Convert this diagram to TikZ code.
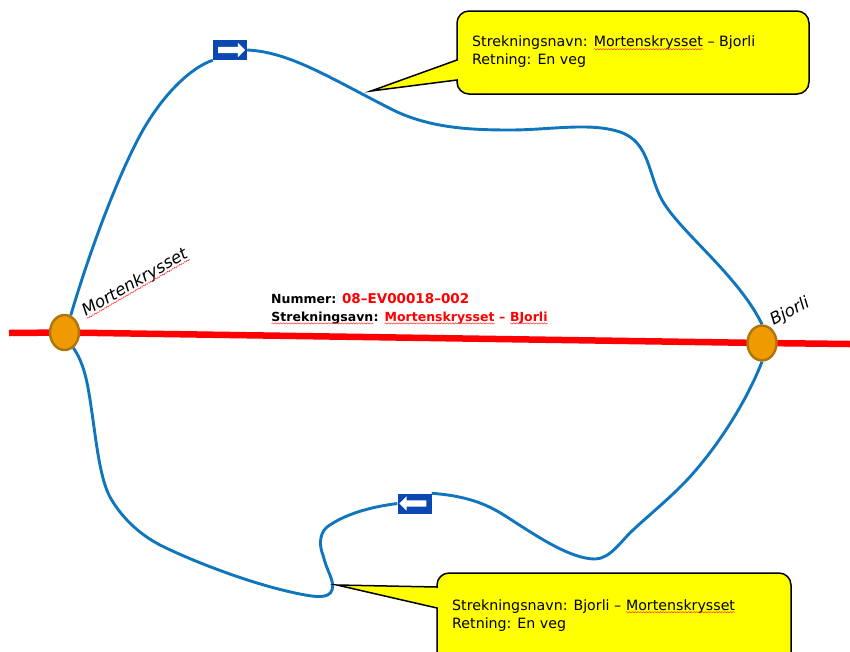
\documentclass[tikz,border=0pt]{standalone}
\usepackage{fontspec}
\setmainfont{DejaVu Sans}
\usepackage{tikz}
\usetikzlibrary{shapes.geometric,shapes.arrows,decorations.pathmorphing}

\definecolor{roadblue}{HTML}{0F75BD}
\definecolor{signblue}{HTML}{0A47B0}
\definecolor{nodefill}{HTML}{EE9A00}
\definecolor{nodeline}{HTML}{B0740F}
\definecolor{bubblefill}{RGB}{255,255,0}
\definecolor{roadred}{RGB}{255,0,0}

\newcommand{\squig}[1]{\tikz[baseline=(w.base)]{\node[inner sep=0pt,outer sep=0pt] (w) {#1};
    \draw[roadred!80,line width=.5pt,decorate,decoration={snake,amplitude=.6pt,segment length=2.8pt}] ([yshift=-2.2pt]w.base west) -- ([yshift=-2.2pt]w.base east);}}

\tikzset{
    junction/.style={ellipse,draw=nodeline,fill=nodefill,line width=2.4pt,inner sep=0pt,minimum width=29pt,minimum height=35pt},
    roadsign/.style={rectangle,fill=signblue,inner sep=0pt,minimum width=34pt,minimum height=20pt},
    signarrow/.style={single arrow,fill=white,inner sep=0pt,text height=6pt,text depth=0pt,minimum height=27pt,single arrow head extend=4pt,single arrow tip angle=90},
    bubble/.style={draw=black,line width=1.5pt,fill=bubblefill,line join=miter},
    bubbletext/.style={anchor=north west,inner sep=0pt,align=left,font=\fontsize{14.2}{18}\selectfont},
    placename/.style={font=\fontsize{16.6}{19}\selectfont\itshape},
    blueroad/.style={draw=roadblue,line width=2.9pt},
    redroad/.style={draw=roadred,line width=6.5pt}
}

\begin{document}
\begin{tikzpicture}[x=1pt,y=-1pt]
            \useasboundingbox (0,0) rectangle (850,651);

            \node[junction,draw=none,fill=none] (M) at (64.5,332.5) {};
            \node[junction,draw=none,fill=none] (B) at (762,343) {};
            \node[roadsign] (signN) at (230,50) {};
            \node[roadsign] (signS) at (414.5,503.5) {};
            \coordinate (west) at (9,333);
            \coordinate (east) at (850,344);
            \coordinate (tipN) at (371,91);
            \coordinate (tipS) at (337,585);

            % roads
            \draw[redroad] (west) -- (M.center) -- (B.center) -- (east);
            \draw[blueroad] (M.70) .. controls (93,240) and (122,167) .. (143,130)
                .. controls (163,95) and (190,68) .. (signN.south west);
            \draw[blueroad] (signN.east) .. controls (290,52) and (330,78) .. (393,110)
                .. controls (430,128) and (470,130) .. (510,130)
                .. controls (550,130) and (590,122) .. (620,132)
                .. controls (650,142) and (648,175) .. (662,200)
                .. controls (680,232) and (738,275) .. (B.north);
            \draw[blueroad] (B.south) .. controls (745,405) and (715,450) .. (687,480)
                .. controls (670,498) and (648,516) .. (633,530)
                .. controls (621,541) and (610,559) .. (595,559)
                .. controls (570,559) and (535,535) .. (507,517)
                .. controls (490,506) and (470,496) .. (signS.north east);
            \draw[blueroad] (signS.west) .. controls (370,507) and (345,514) .. (327,527)
                .. controls (318,535) and (320,548) .. (323,555)
                .. controls (327,572) and (335,581) .. (332,590)
                .. controls (329,599) and (315,597) .. (300,594)
                .. controls (250,584) and (190,560) .. (160,545)
                .. controls (137,533) and (120,515) .. (110,497)
                .. controls (100,479) and (96,440) .. (92,413)
                .. controls (88,385) and (85,365) .. (M.300);

            \node[junction] (Mdot) at (M.center) {};
            \node[junction] (Bdot) at (B.center) {};
            \node[signarrow] (arrowN) at (signN) {};
            \node[signarrow,shape border rotate=180] (arrowS) at (signS) {};

            \node[placename,rotate=30] (nameM) at (135,283) {\squig{Mortenkrysset}};
            \node[placename,rotate=28] (nameB) at (790,312) {Bjorli};

            \node[anchor=north west,inner sep=0pt,align=left,font=\fontsize{12.5}{18}\selectfont\bfseries] (midtext) at (271,293)
                {Nummer: \textcolor{roadred}{\fontsize{13.5}{18}\selectfont 08--EV00018--002}\\
                 \squig{Strekningsavn}: \textcolor{roadred}{\squig{Mortenskrysset} -- \squig{BJorli}}};

            % callouts
            \draw[bubble] (457,60) -- (tipN) -- (457,80) [rounded corners=12pt] |- (809,94) |- (457,11) [sharp corners] -- cycle;
            \node[bubbletext] (textN) at (472,36) {Strekningsnavn: \squig{Mortenskrysset} -- Bjorli\\Retning: En veg};
            \draw[bubble] (437,587) -- (tipS) -- (437,608) [rounded corners=12pt] |- (791,665) |- (437,573) [sharp corners] -- cycle;
            \node[bubbletext] (textS) at (452,599) {Strekningsnavn: Bjorli -- \squig{Mortenskrysset}\\Retning: En veg};
\end{tikzpicture}
\end{document}
